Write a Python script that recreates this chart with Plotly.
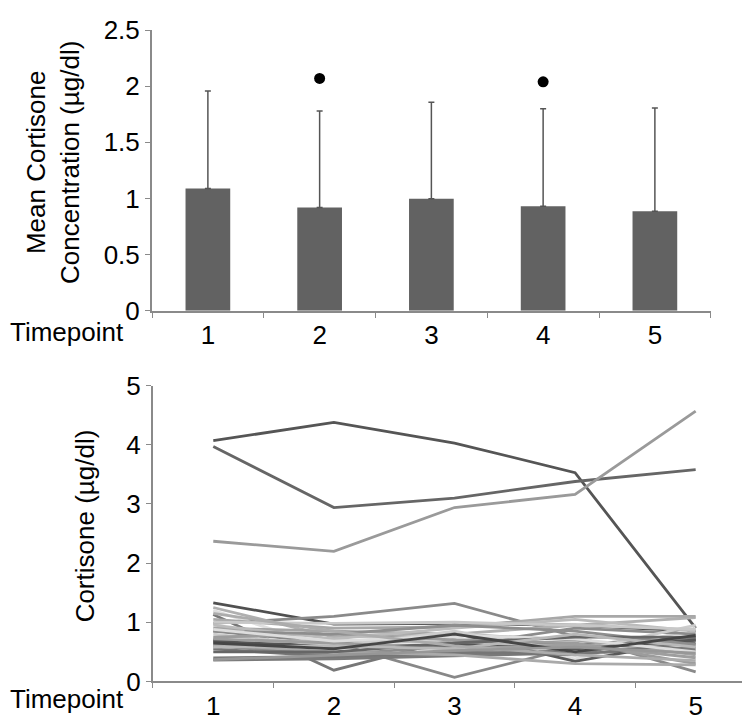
import plotly.graph_objects as go

# ---------------- data ----------------
timepoints = ["1", "2", "3", "4", "5"]
mean_cortisone = [1.088, 0.92, 0.997, 0.93, 0.886]
sd_cortisone = [0.87, 0.86, 0.86, 0.87, 0.92]
sig_timepoints = ["2", "4"]
sig_marker_y = [2.07, 2.04]

# individual subjects (timepoint 1..5)
subj_values = [
    [4.07, 4.38, 4.03, 3.53, 0.90],
    [3.97, 2.94, 3.10, 3.38, 3.58],
    [2.37, 2.20, 2.94, 3.16, 4.57],
    [1.33, 0.97, 0.98, 0.95, 0.85],
    [0.98, 1.10, 1.32, 0.76, 0.16],
    [1.13, 0.19, 0.72, 0.62, 0.75],
    [0.85, 0.65, 0.07, 0.58, 0.72],
    [0.38, 0.40, 0.45, 0.50, 0.55],
    [1.25, 0.75, 0.80, 0.95, 1.08],
    [1.20, 0.55, 0.75, 0.38, 0.90],
    [1.05, 0.90, 0.92, 1.10, 1.10],
    [0.70, 0.62, 0.82, 0.34, 0.70],
    [0.65, 0.70, 0.65, 0.60, 0.62],
    [0.60, 0.45, 0.60, 0.90, 0.80],
    [0.90, 0.85, 0.80, 0.70, 0.45],
    [0.80, 0.60, 0.85, 0.50, 0.95],
    [0.75, 0.80, 0.70, 0.65, 0.30],
    [0.68, 0.58, 0.62, 0.55, 0.70],
    [0.95, 0.72, 0.90, 1.05, 0.85],
    [0.55, 0.42, 0.50, 0.45, 0.65],
    [0.62, 0.50, 0.45, 0.30, 0.28],
    [1.00, 0.98, 1.00, 0.95, 0.88],
    [0.85, 0.80, 0.95, 0.85, 0.62],
    [0.72, 0.65, 0.55, 0.62, 0.40],
    [0.88, 0.68, 0.78, 0.72, 0.50],
    [0.50, 0.50, 0.65, 0.75, 0.75],
    [0.58, 0.60, 0.55, 0.80, 0.58],
    [1.15, 0.85, 0.60, 0.45, 0.35],
    [0.65, 0.55, 0.80, 0.50, 0.78],
    [0.37, 0.45, 0.52, 0.58, 0.48],
]
subj_colors = [
    "#555555", "#666666", "#9a9a9a", "#505050", "#8a8a8a", "#777777", "#888888",
    "#7a7a7a", "#b0b0b0", "#dedede", "#a8a8a8", "#5a5a5a", "#bdbdbd", "#8c8c8c",
    "#a4a4a4", "#cccccc", "#9c9c9c", "#555555", "#bbbbbb", "#767676", "#aaaaaa",
    "#c8c8c8", "#8e8e8e", "#9e9e9e", "#dddddd", "#666666", "#b8b8b8", "#acacac",
    "#464646", "#979797",
]
subj_widths = [2.8] * len(subj_values)
subj_widths[7] = 5

FONT = "Liberation Sans, Arial, sans-serif"
FS = 26
AXIS_COLOR = "#8a8a8a"

fig = go.Figure()

# ---------------- top: bar chart ----------------
fig.add_trace(go.Bar(
    x=timepoints, y=mean_cortisone,
    marker=dict(color="#626262", line=dict(width=0)),
    width=0.4,
    error_y=dict(type="data", symmetric=False, array=sd_cortisone,
                 arrayminus=[0] * len(sd_cortisone),
                 color="#555555", thickness=1.5, width=3),
    xaxis="x", yaxis="y", showlegend=False,
))
fig.add_trace(go.Scatter(
    x=sig_timepoints, y=sig_marker_y, mode="markers",
    marker=dict(color="black", size=11),
    xaxis="x", yaxis="y", showlegend=False,
))

# ---------------- bottom: spaghetti plot ----------------
for vals, col, w in zip(subj_values, subj_colors, subj_widths):
    fig.add_trace(go.Scatter(
        x=timepoints, y=vals, mode="lines",
        line=dict(color=col, width=w),
        xaxis="x2", yaxis="y2", showlegend=False,
    ))

common_axis = dict(
    showline=True, linecolor=AXIS_COLOR, linewidth=2,
    showgrid=False, zeroline=False,
    ticks="outside", tickcolor=AXIS_COLOR, ticklen=5, tickwidth=1,
    tickfont=dict(family=FONT, size=FS, color="black"),
)

fig.update_layout(
    width=750, height=728,
    margin=dict(l=0, r=0, t=0, b=0),
    paper_bgcolor="white", plot_bgcolor="white",
    font=dict(family=FONT, size=FS, color="black"),
    xaxis=dict(domain=[0.192, 0.937], anchor="y", type="category",
               tickson="boundaries", range=[-0.5, 4.5], **common_axis),
    yaxis=dict(domain=[0.5879, 0.9897], anchor="x", range=[0, 2.5],
               dtick=0.5, tick0=0, **common_axis),
    xaxis2=dict(domain=[0.1933, 0.9973], anchor="y2", type="category",
                tickson="boundaries", range=[-0.5, 4.5], **common_axis),
    yaxis2=dict(domain=[0.0567, 0.4804], anchor="x2", range=[0, 5],
                dtick=1, tick0=0, **common_axis),
    annotations=[
        dict(text="Mean Cortisone<br>Concentration (µg/dl)", textangle=-90,
             x=45 / 750, y=(728 - 146) / 728, xref="paper", yref="paper",
             xanchor="center", yanchor="middle", showarrow=False,
             font=dict(family=FONT, size=FS, color="black")),
        dict(text="Cortisone (µg/dl)", textangle=-90,
             x=77 / 750, y=(728 - 525) / 728, xref="paper", yref="paper",
             xanchor="center", yanchor="middle", showarrow=False,
             font=dict(family=FONT, size=FS, color="black")),
        dict(text="Timepoint", x=0, y=(728 - 322) / 728, xref="paper",
             yref="paper", xanchor="left", yanchor="middle", showarrow=False,
             font=dict(family=FONT, size=FS, color="black")),
        dict(text="Timepoint", x=0, y=(728 - 705) / 728, xref="paper",
             yref="paper", xanchor="left", yanchor="middle", showarrow=False,
             font=dict(family=FONT, size=FS, color="black")),
    ],
)

fig.write_html("out.html")
